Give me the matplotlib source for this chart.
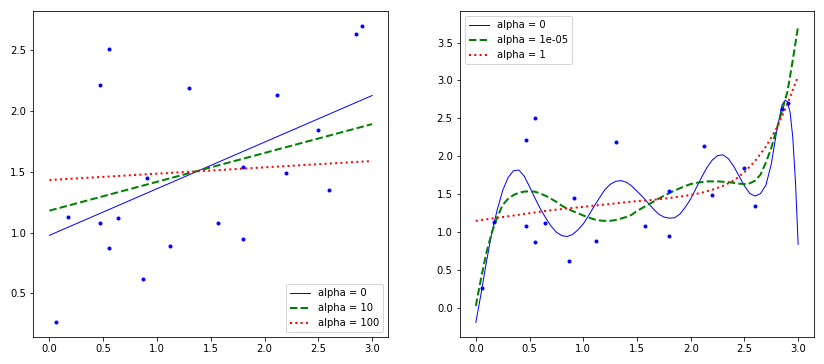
import numpy as np
import matplotlib
matplotlib.use("Agg")
import matplotlib.pyplot as plt

# scatter data
X = [0.06, 0.17, 0.47, 0.47, 0.55, 0.55, 0.64, 0.87, 0.91, 1.12,
     1.30, 1.57, 1.80, 1.80, 2.12, 2.20, 2.50, 2.60, 2.85, 2.91]
y = [0.26, 1.13, 2.21, 1.08, 2.51, 0.87, 1.12, 0.62, 1.45, 0.89,
     2.19, 1.08, 0.95, 1.54, 2.13, 1.49, 1.84, 1.35, 2.63, 2.70]

# left panel: linear ridge fits
x_lin = [0.0, 3.0]
lin_alpha0 = [0.977, 2.127]
lin_alpha10 = [1.18, 1.892]
lin_alpha100 = [1.432, 1.588]

# right panel: polynomial ridge fits
x_blue = [0.00, 0.05, 0.10, 0.15, 0.20, 0.25, 0.30, 0.35, 0.40, 0.45,
          0.50, 0.55, 0.60, 0.65, 0.70, 0.75, 0.80, 0.85, 0.90, 0.95,
          1.00, 1.05, 1.10, 1.15, 1.20, 1.25, 1.30, 1.35, 1.40, 1.45,
          1.50, 1.55, 1.60, 1.65, 1.70, 1.75, 1.80, 1.85, 1.90, 1.95,
          2.00, 2.05, 2.10, 2.15, 2.20, 2.25, 2.30, 2.35, 2.40, 2.45,
          2.50, 2.55, 2.60, 2.65, 2.70, 2.75, 2.80, 2.85, 2.88, 2.90,
          2.925, 2.95, 2.975, 3.00]
poly_alpha0 = [-0.19, 0.20, 0.62, 1.00, 1.30, 1.55, 1.72, 1.81, 1.82, 1.74,
               1.60, 1.45, 1.31, 1.19, 1.08, 1.00, 0.955, 0.943, 0.97, 1.03,
               1.11, 1.22, 1.34, 1.45, 1.56, 1.63, 1.67, 1.68, 1.66, 1.61,
               1.54, 1.47, 1.39, 1.31, 1.24, 1.20, 1.186, 1.19, 1.24, 1.33,
               1.44, 1.58, 1.72, 1.85, 1.95, 2.01, 2.02, 1.97, 1.87, 1.74,
               1.61, 1.51, 1.476, 1.51, 1.62, 1.90, 2.33, 2.68, 2.74, 2.72,
               2.58, 2.25, 1.66, 0.84]

x_green = [0.00, 0.05, 0.10, 0.15, 0.20, 0.25, 0.30, 0.35, 0.40, 0.45,
           0.50, 0.55, 0.60, 0.65, 0.70, 0.75, 0.80, 0.85, 0.90, 0.95,
           1.00, 1.05, 1.10, 1.15, 1.20, 1.25, 1.30, 1.35, 1.40, 1.45,
           1.50, 1.55, 1.60, 1.65, 1.70, 1.75, 1.80, 1.85, 1.90, 1.95,
           2.00, 2.05, 2.10, 2.15, 2.20, 2.25, 2.30, 2.35, 2.40, 2.45,
           2.50, 2.55, 2.60, 2.65, 2.70, 2.75, 2.80, 2.85, 2.90, 2.95, 3.00]
poly_alpha1e5 = [0.03, 0.40, 0.74, 1.00, 1.20, 1.36, 1.44, 1.49, 1.52, 1.535,
                 1.54, 1.534, 1.51, 1.48, 1.44, 1.40, 1.35, 1.31, 1.28, 1.25,
                 1.22, 1.195, 1.17, 1.155, 1.15, 1.15, 1.16, 1.18, 1.20, 1.23,
                 1.28, 1.32, 1.36, 1.40, 1.44, 1.48, 1.515, 1.55, 1.58, 1.61,
                 1.635, 1.65, 1.66, 1.67, 1.67, 1.67, 1.665, 1.66, 1.65, 1.64,
                 1.635, 1.645, 1.68, 1.76, 1.92, 2.11, 2.36, 2.60, 2.85, 3.27, 3.72]

x_red = [0.0, 0.1, 0.2, 0.3, 0.4, 0.5, 0.6, 0.7, 0.8, 0.9,
         1.0, 1.1, 1.2, 1.3, 1.4, 1.5, 1.6, 1.7, 1.8, 1.9,
         2.0, 2.1, 2.2, 2.3, 2.4, 2.5, 2.6, 2.7, 2.8, 2.9, 3.0]
poly_alpha1 = [1.15, 1.17, 1.19, 1.21, 1.23, 1.25, 1.27, 1.29, 1.305, 1.32,
               1.335, 1.35, 1.365, 1.38, 1.395, 1.41, 1.42, 1.435, 1.45, 1.47,
               1.49, 1.52, 1.56, 1.61, 1.68, 1.79, 1.94, 2.13, 2.37, 2.69, 3.06]

fig = plt.figure(figsize=(824 / 72, 364 / 72), dpi=72)
ax1 = fig.add_axes([0.0404, 0.0733, 0.4308, 0.8964])
ax2 = fig.add_axes([0.5579, 0.0733, 0.4303, 0.8964])

ax1.plot(x_lin, lin_alpha0, "b-", linewidth=1, label="alpha = 0")
ax1.plot(x_lin, lin_alpha10, "g--", linewidth=2, label="alpha = 10")
ax1.plot(x_lin, lin_alpha100, "r:", linewidth=2, label="alpha = 100")
ax1.plot(X, y, "b.", linewidth=3)
ax1.legend(loc="lower right")

ax2.plot(x_blue, poly_alpha0, "b-", linewidth=1, label="alpha = 0")
ax2.plot(x_green, poly_alpha1e5, "g--", linewidth=2, label="alpha = 1e-05")
ax2.plot(x_red, poly_alpha1, "r:", linewidth=2, label="alpha = 1")
ax2.plot(X, y, "b.", linewidth=3)
ax2.legend(loc="upper left")

fig.savefig("out.png", dpi=72)
